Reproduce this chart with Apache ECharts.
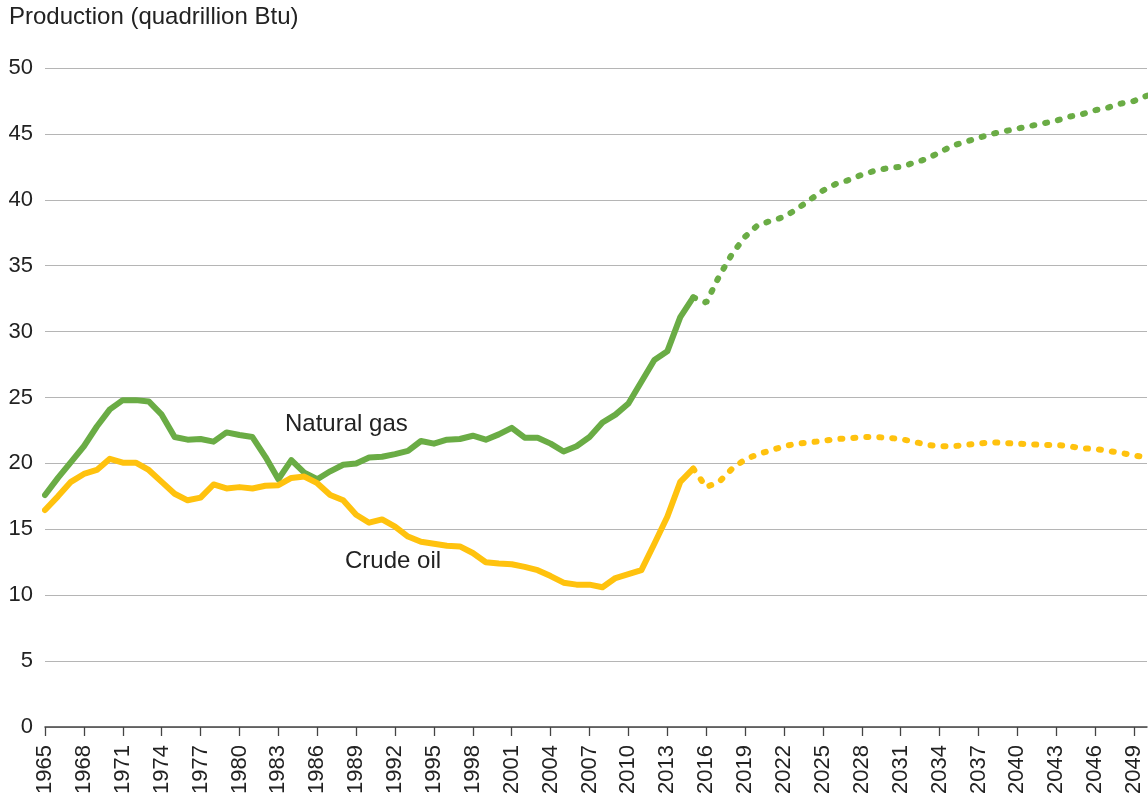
<!DOCTYPE html>
<html><head><meta charset="utf-8">
<script src="https://cdn.jsdelivr.net/npm/echarts@6/dist/echarts.min.js"></script>
<style>html,body{margin:0;padding:0;background:#fff}#c{width:1148px;height:801px}</style>
</head><body><div id="c"></div>
<script>
const years = ['1965','1966','1967','1968','1969','1970','1971','1972','1973','1974','1975','1976','1977','1978','1979','1980','1981','1982','1983','1984','1985','1986','1987','1988','1989','1990','1991','1992','1993','1994','1995','1996','1997','1998','1999','2000','2001','2002','2003','2004','2005','2006','2007','2008','2009','2010','2011','2012','2013','2014','2015','2016','2017','2018','2019','2020','2021','2022','2023','2024','2025','2026','2027','2028','2029','2030','2031','2032','2033','2034','2035','2036','2037','2038','2039','2040','2041','2042','2043','2044','2045','2046','2047','2048','2049','2050'];
// history 1965-2015
const gasHist = [17.6,18.9,20.1,21.3,22.8,24.1,24.8,24.8,24.7,23.7,22.0,21.8,21.85,21.65,22.35,22.15,22.0,20.5,18.8,20.25,19.3,18.8,19.4,19.9,20.0,20.45,20.5,20.7,20.95,21.7,21.5,21.8,21.85,22.1,21.8,22.2,22.7,21.95,21.95,21.5,20.9,21.3,22.0,23.1,23.7,24.55,26.2,27.85,28.5,31.1,32.6];
const oilHist = [16.46,17.5,18.6,19.2,19.5,20.35,20.05,20.05,19.5,18.6,17.7,17.2,17.4,18.4,18.1,18.2,18.1,18.3,18.35,18.9,19.0,18.5,17.6,17.2,16.1,15.5,15.75,15.2,14.45,14.05,13.9,13.75,13.7,13.2,12.5,12.4,12.35,12.15,11.9,11.45,10.95,10.8,10.8,10.6,11.3,11.6,11.9,13.9,15.95,18.6,19.6];
// projections 2016-2050
const gasProj = [32.2,34.2,35.9,37.2,38.1,38.4,38.7,39.3,40.0,40.7,41.2,41.5,41.9,42.2,42.4,42.5,42.8,43.1,43.6,44.1,44.4,44.7,45.0,45.2,45.4,45.6,45.8,46.0,46.3,46.5,46.8,47.0,47.3,47.5,47.9];
const oilProj = [18.2,18.6,19.6,20.3,20.7,21.0,21.3,21.5,21.6,21.7,21.85,21.9,22.0,22.0,21.95,21.85,21.65,21.4,21.3,21.3,21.4,21.5,21.6,21.55,21.5,21.45,21.4,21.4,21.3,21.15,21.1,20.95,20.8,20.6,20.45];
const yTicks = [0,5,10,15,20,25,30,35,40,45,50];

const GREEN = '#6aac45', YELLOW = '#ffc20e';
const nulls = n => Array(n).fill(null);
const solid = h => h.concat(nulls(years.length - h.length));
const dotted = (h, p) => nulls(h.length - 1).concat([h[h.length-1]], p);
const FONT = '"Liberation Sans", Arial, Helvetica, sans-serif';

const chart = echarts.init(document.getElementById('c'));
chart.setOption({
  animation: false,
  textStyle: {fontFamily: FONT},
  grid: {left: 45, right: 1, top: 68, bottom: 74, containLabel: false},
  xAxis: {
    type: 'category', data: years, boundaryGap: false,
    axisLine: {lineStyle: {color: '#444', width: 1.5}},
    axisTick: {show: true, interval: 2, length: 9, lineStyle: {color: '#444', width: 1.3}},
    axisLabel: {interval: 2, rotate: 90, fontSize: 22, color: '#222', margin: 18, fontFamily: FONT},
    splitLine: {show: false}
  },
  yAxis: {
    type: 'value', min: 0, max: 50, interval: 5,
    axisLine: {show: false}, axisTick: {show: false},
    axisLabel: {fontSize: 22, color: '#222', margin: 12, fontFamily: FONT},
    splitLine: {lineStyle: {color: '#b5b5b5', width: 1.2}}
  },
  graphic: [
    {type: 'text', left: 9, top: 5, style: {text: 'Production (quadrillion Btu)', fontSize: 24, fill: '#222', fontFamily: FONT}},
    {type: 'text', left: 285, top: 412, style: {text: 'Natural gas', fontSize: 24, fill: '#222', fontFamily: FONT}},
    {type: 'text', left: 345, top: 549, style: {text: 'Crude oil', fontSize: 24, fill: '#222', fontFamily: FONT}}
  ],
  series: [
    {type: 'line', data: solid(gasHist), showSymbol: false, lineStyle: {color: GREEN, width: 6, cap: 'round', join: 'round'}},
    {type: 'line', data: dotted(gasHist, gasProj), showSymbol: false, lineStyle: {color: GREEN, width: 6, type: [2, 11], cap: 'round'}},
    {type: 'line', data: solid(oilHist), showSymbol: false, lineStyle: {color: YELLOW, width: 6, cap: 'round', join: 'round'}},
    {type: 'line', data: dotted(oilHist, oilProj), showSymbol: false, lineStyle: {color: YELLOW, width: 6, type: [2, 11], cap: 'round'}}
  ]
});
</script></body></html>
